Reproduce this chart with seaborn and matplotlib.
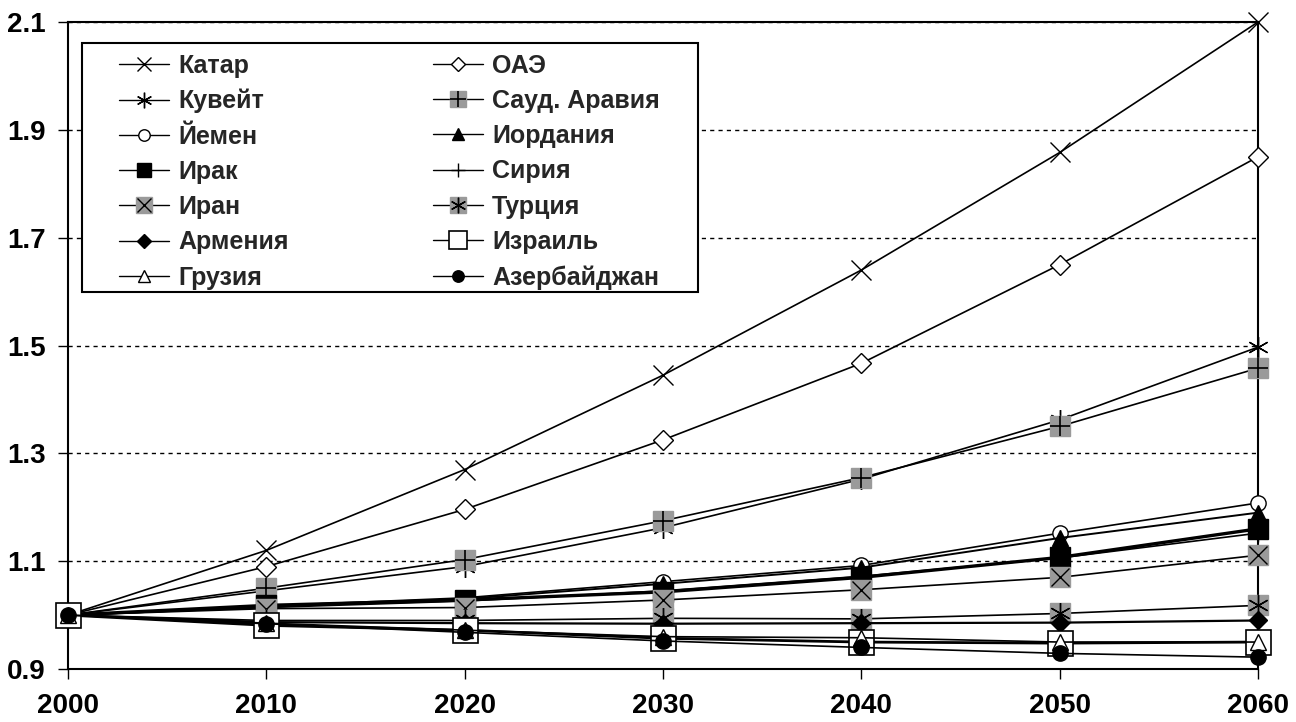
import matplotlib
matplotlib.use('Agg')
import matplotlib.pyplot as plt
import seaborn as sns
from matplotlib.lines import Line2D
from matplotlib.patches import Rectangle
from matplotlib.legend_handler import HandlerTuple

# --- данные ---
years = [2000, 2010, 2020, 2030, 2040, 2050, 2060]

katar = [1.0, 1.12, 1.27, 1.445, 1.64, 1.858, 2.10]
oae = [1.0, 1.09, 1.196, 1.325, 1.467, 1.65, 1.85]
kuveit = [1.0, 1.045, 1.09, 1.162, 1.252, 1.362, 1.497]
saud = [1.0, 1.05, 1.103, 1.175, 1.255, 1.35, 1.458]
yemen = [1.0, 1.017, 1.032, 1.062, 1.092, 1.152, 1.208]
iordania = [1.0, 1.015, 1.03, 1.058, 1.088, 1.143, 1.19]
irak = [1.0, 1.018, 1.028, 1.043, 1.07, 1.107, 1.16]
siria = [1.0, 1.014, 1.026, 1.045, 1.072, 1.106, 1.152]
iran = [1.0, 1.012, 1.014, 1.028, 1.047, 1.07, 1.111]
turcia = [1.0, 0.99, 0.99, 0.994, 0.993, 1.003, 1.018]
armenia = [1.0, 0.987, 0.985, 0.984, 0.985, 0.986, 0.99]
izrail = [1.0, 0.981, 0.972, 0.957, 0.95, 0.948, 0.95]
gruzia = [1.0, 0.985, 0.972, 0.96, 0.958, 0.95, 0.95]
azerb = [1.0, 0.984, 0.968, 0.952, 0.94, 0.929, 0.922]

names = ['Катар', 'ОАЭ', 'Кувейт', 'Сауд. Аравия', 'Йемен', 'Иордания',
         'Ирак', 'Сирия', 'Иран', 'Турция', 'Армения', 'Израиль',
         'Грузия', 'Азербайджан']
series = [katar, oae, kuveit, saud, yemen, iordania, irak, siria, iran,
          turcia, armenia, izrail, gruzia, azerb]

y_ticks = [0.9, 1.1, 1.3, 1.5, 1.7, 1.9, 2.1]
y_labels = ['0.9', '1.1', '1.3', '1.5', '1.7', '1.9', '2.1']

# --- стили маркеров ---
GRAY = '#9a9a9a'
AST = (6, 2, 0)
styles = {
    'Катар': dict(marker='x', ms=14, mfc='none', mec='black', mew=1.0, lw=1.2),
    'ОАЭ': dict(marker='D', ms=10, mfc='white', mec='black', mew=1.0, lw=1.2),
    'Кувейт': dict(marker=AST, ms=15, mfc='none', mec='black', mew=1.0, lw=1.2),
    'Сауд. Аравия': dict(marker='s', ms=15, mfc=GRAY, mec=GRAY, mew=1.0, lw=1.2,
                         top=dict(marker='+', ms=15, mec='black', mew=1.2)),
    'Йемен': dict(marker='o', ms=11, mfc='white', mec='black', mew=1.0, lw=1.2),
    'Иордания': dict(marker='^', ms=12, mfc='black', mec='black', mew=1.0, lw=1.4),
    'Ирак': dict(marker='s', ms=14, mfc='black', mec='black', mew=1.0, lw=2.4),
    'Сирия': dict(marker='+', ms=13, mfc='none', mec='black', mew=1.0, lw=1.2),
    'Иран': dict(marker='s', ms=15, mfc=GRAY, mec=GRAY, mew=1.0, lw=1.2,
                 top=dict(marker='x', ms=13, mec='black', mew=1.0)),
    'Турция': dict(marker='s', ms=15, mfc=GRAY, mec=GRAY, mew=1.0, lw=1.2,
                   top=dict(marker=AST, ms=15, mec='black', mew=1.0)),
    'Армения': dict(marker='D', ms=9, mfc='black', mec='black', mew=1.0, lw=1.6),
    'Израиль': dict(marker='s', ms=18, mfc='white', mec='black', mew=1.2, lw=2.0),
    'Грузия': dict(marker='^', ms=12, mfc='white', mec='black', mew=1.0, lw=1.2),
    'Азербайджан': dict(marker='o', ms=11, mfc='black', mec='black', mew=1.0, lw=1.2),
}

sns.set_style('ticks')
plt.rcParams['font.family'] = ['Liberation Sans', 'DejaVu Sans']
plt.rcParams['font.weight'] = 'bold'

fig = plt.figure(figsize=(12.96, 7.22), dpi=100)
ax = fig.add_axes([0.0525, 0.0734, 0.9182, 0.8961])

handles = {}
for name, vals in zip(names, series):
    st = styles[name]
    sns.lineplot(x=years, y=vals, ax=ax, color='black', lw=st['lw'],
                 marker=st['marker'], ms=st['ms'], mfc=st['mfc'],
                 mec=st['mec'], mew=st['mew'], clip_on=False, zorder=3)
    h = Line2D([], [], color='black', lw=1.0, marker=st['marker'],
               ms=st['ms'], mfc=st['mfc'], mec=st['mec'], mew=st['mew'])
    if 'top' in st:
        tp = st['top']
        sns.lineplot(x=years, y=vals, ax=ax, color='black', linestyle='none',
                     marker=tp['marker'], ms=tp['ms'], mfc='none',
                     mec=tp['mec'], mew=tp['mew'], clip_on=False, zorder=3)
        h2 = Line2D([], [], linestyle='none', marker=tp['marker'], ms=tp['ms'],
                    mfc='none', mec=tp['mec'], mew=tp['mew'])
        h = (h, h2)
    handles[name] = h

ax.set_xlim(2000, 2060)
ax.set_ylim(0.9, 2.1)
ax.set_xticks(years)
ax.set_xticklabels([str(y) for y in years])
ax.set_yticks(y_ticks)
ax.set_yticklabels(y_labels)
ax.set_xlabel('')
ax.set_ylabel('')

ax.yaxis.grid(True, color='black', linestyle=(0, (3, 3)), linewidth=1.0)
ax.xaxis.grid(False)
ax.set_axisbelow(True)
for s in ax.spines.values():
    s.set_color('black')
    s.set_linewidth(1.5)
    s.set_visible(True)

ax.tick_params(axis='both', direction='out', length=7, width=1.0,
               colors='black', labelsize=20)
ax.tick_params(axis='x', pad=10)
ax.tick_params(axis='y', pad=9)
for lab in ax.get_xticklabels() + ax.get_yticklabels():
    lab.set_fontweight('bold')

# легенда: две колонки
col1 = ['Катар', 'Кувейт', 'Йемен', 'Ирак', 'Иран', 'Армения', 'Грузия']
col2 = ['ОАЭ', 'Сауд. Аравия', 'Иордания', 'Сирия', 'Турция', 'Израиль', 'Азербайджан']
order = col1 + col2
leg = ax.legend([handles[n] for n in order], order, ncol=2, loc='upper left',
                bbox_to_anchor=(0.043, 0.951), frameon=False, borderpad=0,
                borderaxespad=0, handlelength=2.0, handletextpad=0.35,
                labelspacing=0.45, columnspacing=5.8, markerscale=0.75,
                prop={'size': 18, 'weight': 'bold'},
                handler_map={tuple: HandlerTuple(ndivide=1)})
leg.set_zorder(6)
ax.add_patch(Rectangle((0.0118, 0.583), 0.5176, 0.3845, transform=ax.transAxes,
                       facecolor='white', edgecolor='black', lw=1.5, zorder=5))

plt.savefig('out.png', dpi=100)
